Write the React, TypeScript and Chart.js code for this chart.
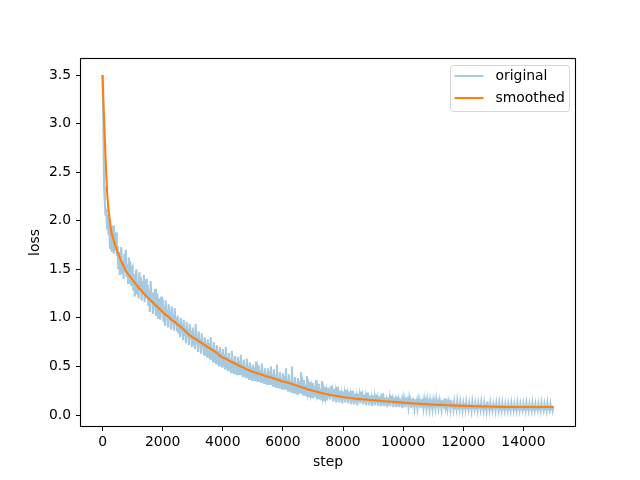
import React, { useEffect, useRef } from "react";
import { Chart, registerables } from "chart.js";

Chart.register(...registerables);

// ---- data ----
const ORIG_INTERVAL = 25; // logging interval (steps) of the raw series
const origLoss = [
  3.50, 3.05, 2.35, 2.20, 2.05, 2.12, 1.92, 2.06, 1.85, 1.98, 1.72, 1.90, 1.68, 1.84, 1.95, 1.66, 1.82, 1.70, 1.88, 1.64,
  1.74, 1.50, 1.68, 1.44, 1.62, 1.73, 1.46, 1.58, 1.40, 1.66, 1.52, 1.70, 1.42, 1.55, 1.36, 1.62, 1.47, 1.58, 1.34, 1.50,
  1.52, 1.28, 1.45, 1.22, 1.40, 1.50, 1.25, 1.36, 1.20, 1.47, 1.32, 1.42, 1.18, 1.38, 1.26, 1.44, 1.16, 1.33, 1.40, 1.20,
  1.34, 1.12, 1.28, 1.06, 1.38, 1.18, 1.26, 1.04, 1.22, 1.10, 1.30, 1.02, 1.16, 1.25, 1.00, 1.14, 1.20, 0.98, 1.22, 1.06,
  1.20, 0.96, 1.12, 0.92, 1.18, 1.02, 1.08, 0.90, 1.14, 0.98, 1.06, 0.88, 1.12, 0.95, 1.03, 0.87, 1.10, 0.93, 1.00, 0.86,
  1.02, 0.84, 0.96, 0.80, 1.00, 0.86, 0.93, 0.77, 0.98, 0.82, 0.90, 0.74, 0.96, 0.80, 0.88, 0.72, 0.94, 0.78, 0.86, 0.70,
  0.90, 0.72, 0.84, 0.68, 0.94, 0.74, 0.80, 0.65, 0.86, 0.71, 0.78, 0.63, 0.84, 0.69, 0.76, 0.62, 0.80, 0.67, 0.74, 0.60,
  0.78, 0.62, 0.74, 0.58, 0.80, 0.64, 0.70, 0.55, 0.75, 0.60, 0.68, 0.53, 0.72, 0.57, 0.66, 0.51, 0.70, 0.56, 0.64, 0.50,
  0.68, 0.52, 0.63, 0.48, 0.70, 0.54, 0.60, 0.46, 0.64, 0.50, 0.58, 0.44, 0.66, 0.49, 0.56, 0.43, 0.61, 0.47, 0.55, 0.42,
  0.60, 0.45, 0.56, 0.42, 0.62, 0.47, 0.53, 0.40, 0.57, 0.44, 0.51, 0.39, 0.58, 0.43, 0.50, 0.37, 0.54, 0.42, 0.49, 0.36,
  0.52, 0.40, 0.49, 0.36, 0.55, 0.42, 0.47, 0.35, 0.51, 0.39, 0.46, 0.34, 0.53, 0.38, 0.44, 0.33, 0.48, 0.37, 0.43, 0.32,
  0.48, 0.35, 0.45, 0.32, 0.50, 0.36, 0.42, 0.30, 0.47, 0.34, 0.41, 0.29, 0.52, 0.33, 0.39, 0.28, 0.44, 0.32, 0.38, 0.27,
  0.43, 0.30, 0.40, 0.27, 0.48, 0.31, 0.37, 0.25, 0.42, 0.29, 0.36, 0.24, 0.50, 0.28, 0.34, 0.23, 0.39, 0.27, 0.33, 0.22,
  0.38, 0.26, 0.35, 0.23, 0.44, 0.27, 0.32, 0.21, 0.36, 0.25, 0.31, 0.20, 0.40, 0.24, 0.29, 0.19, 0.34, 0.23, 0.28, 0.18,
  0.33, 0.22, 0.30, 0.19, 0.36, 0.23, 0.28, 0.17, 0.32, 0.21, 0.27, 0.16, 0.35, 0.20, 0.25, 0.15, 0.29, 0.19, 0.24, 0.15,
  0.28, 0.18, 0.26, 0.16, 0.30, 0.19, 0.24, 0.14, 0.27, 0.17, 0.23, 0.13, 0.29, 0.17, 0.22, 0.13, 0.25, 0.16, 0.21, 0.12,
  0.24, 0.16, 0.22, 0.13, 0.26, 0.16, 0.21, 0.12, 0.24, 0.15, 0.20, 0.11, 0.25, 0.14, 0.19, 0.11, 0.22, 0.14, 0.19, 0.10,
  0.22, 0.14, 0.20, 0.12, 0.24, 0.14, 0.19, 0.11, 0.21, 0.13, 0.18, 0.10, 0.23, 0.13, 0.17, 0.10, 0.20, 0.12, 0.17, 0.09,
  0.20, 0.12, 0.18, 0.10, 0.21, 0.13, 0.17, 0.09, 0.19, 0.12, 0.16, 0.09, 0.22, 0.11, 0.16, 0.09, 0.18, 0.11, 0.15, 0.08,
  0.18, 0.11, 0.17, 0.09, 0.20, 0.12, 0.16, 0.08, 0.18, 0.11, 0.15, 0.08, 0.19, 0.10, 0.15, 0.08, 0.17, 0.10, 0.14, 0.07,
  0.16, 0.10, 0.15, 0.08, 0.18, 0.10, 0.14, 0.08, 0.16, 0.09, 0.14, 0.07, 0.17, 0.09, 0.13, 0.07, 0.16, 0.09, 0.13, 0.07,
  0.15, 0.09, 0.14, 0.07, 0.16, 0.09, 0.13, 0.07, 0.15, 0.08, 0.13, 0.07, 0.15, 0.08, 0.12, 0.06, 0.14, 0.08, 0.12, 0.06,
  0.14, 0.08, 0.13, 0.07, 0.15, 0.08, 0.12, 0.07, 0.14, 0.08, 0.12, 0.06, 0.15, 0.08, 0.12, 0.06, 0.17, 0.08, 0.11, 0.06,
  0.13, 0.08, 0.12, 0.06, 0.15, 0.08, 0.12, 0.06, 0.13, 0.07, 0.11, 0.06, 0.14, 0.07, 0.11, 0.06, 0.13, 0.07, 0.11, 0.05,
  0.12, 0.07, 0.12, 0.06, 0.13, 0.07, 0.11, 0.06, 0.12, 0.07, 0.11, 0.05, 0.13, 0.07, 0.10, 0.06, 0.12, 0.07, 0.10, 0.05,
  0.12, 0.07, 0.11, 0.06, 0.13, 0.07, 0.10, 0.05, 0.12, 0.06, 0.11, 0.05, 0.14, 0.07, 0.10, 0.05, 0.12, 0.06, 0.10, 0.05,
  0.11, 0.07, 0.11, 0.05, 0.12, 0.07, 0.10, 0.05, 0.12, 0.06, 0.10, 0.05, 0.12, 0.06, 0.10, 0.05, 0.11, 0.06, 0.10, 0.05,
  0.11, 0.06, 0.10, 0.05, 0.12, 0.07, 0.10, 0.05, 0.11, 0.06, 0.10, 0.05, 0.12, 0.06, 0.10, 0.05, 0.11, 0.06, 0.09, 0.05,
  0.11, 0.06, 0.10, 0.05, 0.12, 0.06, 0.10, 0.05, 0.11, 0.06, 0.09, 0.05, 0.12, 0.06, 0.10, 0.05, 0.11, 0.06, 0.09, 0.05,
  0.11, 0.06, 0.10, 0.05, 0.12, 0.07, 0.09, 0.05, 0.11, 0.06, 0.10, 0.05, 0.12, 0.06, 0.09, 0.05, 0.11, 0.06, 0.10, 0.05,
  0.09,
];

const smoothSteps = [
  0, 50, 100, 150, 200,
  300, 400, 500, 600, 700, 800, 900, 1000, 1100, 1200, 1300, 1400, 1500, 1600, 1700, 1800, 1900,
  2000, 2100, 2200, 2300, 2400, 2500, 2600, 2700, 2800, 2900,
  3000, 3100, 3200, 3300, 3400, 3500, 3600, 3700, 3800, 3900,
  4000, 4100, 4200, 4300, 4400, 4500, 4600, 4700, 4800, 4900,
  5000, 5100, 5200, 5300, 5400, 5500, 5600, 5700, 5800, 5900,
  6000, 6100, 6200, 6300, 6400, 6500, 6600, 6700, 6800, 6900,
  7000, 7100, 7200, 7300, 7400, 7500, 7600, 7700, 7800, 7900,
  8000, 8100, 8200, 8300, 8400, 8500,
  8750, 9000, 9250, 9500, 9750, 10000, 10250, 10500, 10750, 11000, 11250, 11500, 11750,
  12000, 12250, 12500, 12750, 13000, 13250, 13500, 13750, 14000, 14250, 14500, 14750, 15000,
];
const smoothLoss = [
  3.50, 3.05, 2.65, 2.30, 2.10,
  1.87, 1.77, 1.68, 1.60, 1.53, 1.47, 1.43, 1.39, 1.35, 1.31, 1.28, 1.24, 1.21, 1.18, 1.15, 1.12, 1.09,
  1.06, 1.03, 1.01, 0.98, 0.96, 0.93, 0.91, 0.88, 0.85, 0.82,
  0.80, 0.78, 0.76, 0.74, 0.72, 0.70, 0.68, 0.66, 0.64, 0.61,
  0.59, 0.58, 0.56, 0.545, 0.53, 0.515, 0.50, 0.485, 0.47, 0.455,
  0.445, 0.435, 0.425, 0.415, 0.405, 0.395, 0.385, 0.375, 0.365, 0.355,
  0.345, 0.338, 0.33, 0.32, 0.31, 0.298, 0.287, 0.277, 0.267, 0.258,
  0.249, 0.241, 0.233, 0.225, 0.218, 0.212, 0.206, 0.201, 0.196, 0.191,
  0.186, 0.181, 0.177, 0.173, 0.169, 0.166,
  0.159, 0.152, 0.146, 0.139, 0.133, 0.127, 0.121, 0.116, 0.112, 0.107, 0.104, 0.100, 0.097,
  0.094, 0.091, 0.089, 0.087, 0.085, 0.084, 0.083, 0.083, 0.082, 0.082, 0.083, 0.082, 0.083,
];

const xTicks = [0, 2000, 4000, 6000, 8000, 10000, 12000, 14000];
const yTicks = [0.0, 0.5, 1.0, 1.5, 2.0, 2.5, 3.0, 3.5];
const X_RANGE = [-750, 15750];
const Y_RANGE = [-0.1235, 3.675];

const seriesLabels = ["original", "smoothed"];
const seriesColors = ["rgba(31,119,180,0.4)", "#ff7f0e"];

const FONT = "DejaVu Sans";
const FS = 13.9;
const LW = 2.1;

const framePlugin = {
  id: "frameAndLegend",
  afterDraw(chart: any) {
    const { ctx, chartArea } = chart;
    ctx.save();
    // spines
    ctx.strokeStyle = "#000";
    ctx.lineWidth = 1.1;
    ctx.strokeRect(
      Math.round(chartArea.left) + 0.5,
      Math.round(chartArea.top) + 0.5,
      Math.round(chartArea.right - chartArea.left) - 1,
      Math.round(chartArea.bottom - chartArea.top) - 1
    );
    // legend
    const bx = chartArea.right - 125.5;
    const by = chartArea.top + 7.5;
    const bw = 119;
    const bh = 46;
    const r = 3;
    ctx.beginPath();
    ctx.moveTo(bx + r, by);
    ctx.lineTo(bx + bw - r, by);
    ctx.quadraticCurveTo(bx + bw, by, bx + bw, by + r);
    ctx.lineTo(bx + bw, by + bh - r);
    ctx.quadraticCurveTo(bx + bw, by + bh, bx + bw - r, by + bh);
    ctx.lineTo(bx + r, by + bh);
    ctx.quadraticCurveTo(bx, by + bh, bx, by + bh - r);
    ctx.lineTo(bx, by + r);
    ctx.quadraticCurveTo(bx, by, bx + r, by);
    ctx.closePath();
    ctx.fillStyle = "rgba(255,255,255,0.8)";
    ctx.fill();
    ctx.strokeStyle = "rgba(204,204,204,0.8)";
    ctx.lineWidth = 1;
    ctx.stroke();
    ctx.font = `${FS}px "${FONT}"`;
    ctx.textBaseline = "middle";
    ctx.textAlign = "left";
    chart.data.datasets.forEach((ds: any, i: number) => {
      const ly = by + 10.5 + i * 22;
      ctx.strokeStyle = ds.borderColor;
      ctx.lineWidth = LW;
      ctx.beginPath();
      ctx.moveTo(bx + 4, ly);
      ctx.lineTo(bx + 33, ly);
      ctx.stroke();
      ctx.fillStyle = "#000";
      ctx.fillText(ds.label, bx + 45, ly);
    });
    ctx.restore();
  },
};

export default function App() {
  const ref = useRef<HTMLCanvasElement | null>(null);
  useEffect(() => {
    if (!ref.current) return;
    const origData = origLoss.map((v, i) => ({ x: i * ORIG_INTERVAL, y: v }));
    const smoothData = smoothSteps.map((s, i) => ({ x: s, y: smoothLoss[i] }));
    const chart = new Chart(ref.current, {
      type: "line",
      data: {
        datasets: [
          {
            label: seriesLabels[0],
            data: origData,
            borderColor: seriesColors[0],
            borderWidth: LW,
            pointRadius: 0,
            tension: 0,
            order: 2,
          },
          {
            label: seriesLabels[1],
            data: smoothData,
            borderColor: seriesColors[1],
            borderWidth: LW,
            pointRadius: 0,
            tension: 0,
            order: 1,
          },
        ],
      },
      options: {
        animation: false,
        responsive: false,
        devicePixelRatio: 1,
        layout: { padding: { top: 58, right: 64, left: 0, bottom: 0 } },
        plugins: { legend: { display: false }, tooltip: { enabled: false } },
        scales: {
          x: {
            type: "linear",
            min: X_RANGE[0],
            max: X_RANGE[1],
            afterBuildTicks: (s: any) => {
              s.ticks = xTicks.map((v) => ({ value: v }));
            },
            afterFit: (s: any) => {
              s.height = 53;
            },
            ticks: {
              color: "#000",
              padding: 3,
              maxRotation: 0,
              autoSkip: false,
              font: { family: FONT, size: FS },
              callback: (v: any) => String(v),
            },
            grid: {
              display: true,
              drawOnChartArea: false,
              drawTicks: true,
              tickLength: 4,
              color: "#000",
              lineWidth: 1,
            },
            border: { display: false },
            title: {
              display: true,
              text: "step",
              color: "#000",
              font: { family: FONT, size: FS },
              padding: { top: 0, bottom: 9 },
            },
          },
          y: {
            type: "linear",
            min: Y_RANGE[0],
            max: Y_RANGE[1],
            afterBuildTicks: (s: any) => {
              s.ticks = yTicks.map((v) => ({ value: v }));
            },
            afterFit: (s: any) => {
              s.width = 80;
            },
            ticks: {
              color: "#000",
              padding: 5,
              autoSkip: false,
              font: { family: FONT, size: FS },
              callback: (v: any) => Number(v).toFixed(1),
            },
            grid: {
              display: true,
              drawOnChartArea: false,
              drawTicks: true,
              tickLength: 4,
              color: "#000",
              lineWidth: 1,
            },
            border: { display: false },
            title: {
              display: true,
              text: "loss",
              color: "#000",
              font: { family: FONT, size: FS },
              padding: { top: 27, bottom: 0 },
            },
          },
        },
      },
      plugins: [framePlugin],
    } as any);
    return () => chart.destroy();
  }, []);
  return (
    <div style={{ position: "absolute", left: 0, top: 0, width: 640, height: 480, background: "#fff" }}>
      <canvas ref={ref} width={640} height={480} />
    </div>
  );
}
